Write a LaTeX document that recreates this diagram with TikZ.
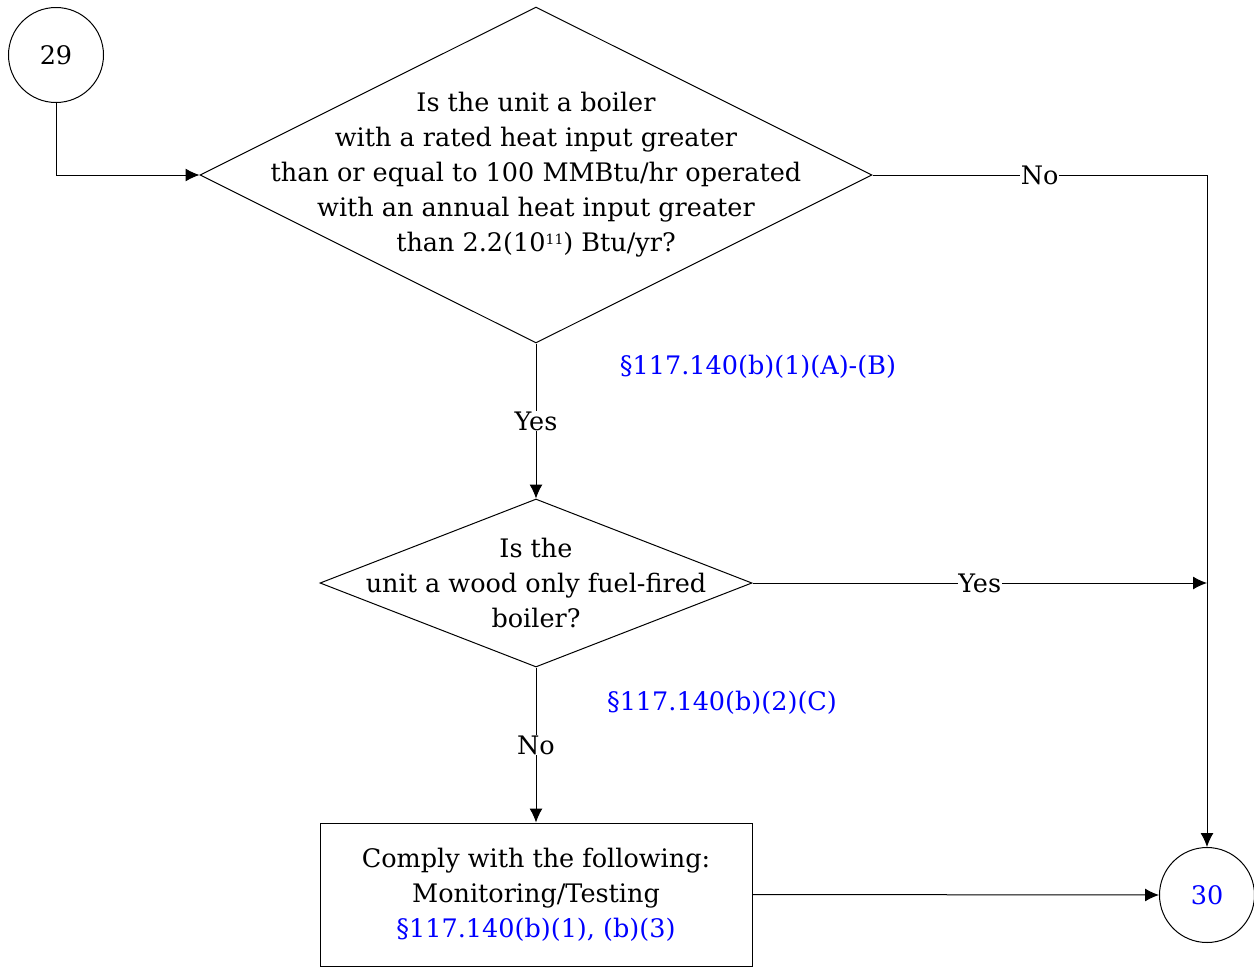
\documentclass[tikz,border=0pt]{standalone}
\usepackage{fontspec}
\setmainfont{DejaVu Serif}
\usetikzlibrary{shapes.geometric,arrows.meta}
\definecolor{refblue}{RGB}{0,0,255}
\tikzset{
  x=1pt,y=-1pt,
  every node/.style={font=\fontsize{25.5}{35}\selectfont},
  shp/.style={draw=black,line width=1pt,fill=white,inner sep=0pt},
  dia/.style={shp,diamond},
  circ/.style={shp,circle,minimum size=95pt},
  boxnode/.style={shp,rectangle,minimum width=432pt,minimum height=143pt},
  txt/.style={align=center,inner sep=0pt},
  conn/.style={draw=black,line width=1pt,-{Latex[length=14pt,width=13pt]}},
  plain/.style={draw=black,line width=1pt},
  lbl/.style={fill=white,inner sep=0.5pt},
  ref/.style={text=refblue,inner sep=0pt},
}
\begin{document}
\begin{tikzpicture}
\useasboundingbox (0,0) rectangle (1254,967);
\node[circ] (c29) at (56,55) {29};
\node[dia,minimum width=672pt,minimum height=336pt] (d1) at (536,175) {};
\node[txt] (t1) at (536,175) {Is the unit a boiler\\with a rated heat input greater\\than or equal to 100 MMBtu/hr operated\\with an annual heat input greater\\than 2.2(10{\fontsize{14}{14}\selectfont\raisebox{0.55em}{11}}) Btu/yr?};
\node[dia,minimum width=432pt,minimum height=168pt] (d2) at (536,583) {};
\node[txt] (t2) at (536,583) {Is the\\unit a wood only fuel-fired\\boiler?};
\node[boxnode] (b1) at (536,894.5) {};
\node[txt] (t3) at (536,894.5) {Comply with the following:\\Monitoring/Testing\\\textcolor{refblue}{§117.140(b)(1), (b)(3)}};
\node[circ,text=refblue] (c30) at (1207,895) {30};
\coordinate (j1) at (1207,175);
\coordinate (j2) at (1207,583);
\node[ref] (r1) at (758,367) {§117.140(b)(1)(A)-(B)};
\node[ref] (r2) at (722,703) {§117.140(b)(2)(C)};
\draw[conn] (c29.south) |- (d1.west);
\draw[plain] (d1.east) -- node[lbl] {No} (j1);
\draw[conn] (j1) -- (c30.north);
\draw[conn] (d1.south) -- node[lbl] {Yes} (d2.north);
\draw[conn] (d2.east) -- node[lbl] {Yes} (j2);
\draw[conn] (d2.south) -- node[lbl] {No} (b1.north);
\draw[conn] (b1.east) -- (c30.west);
\end{tikzpicture}
\end{document}
